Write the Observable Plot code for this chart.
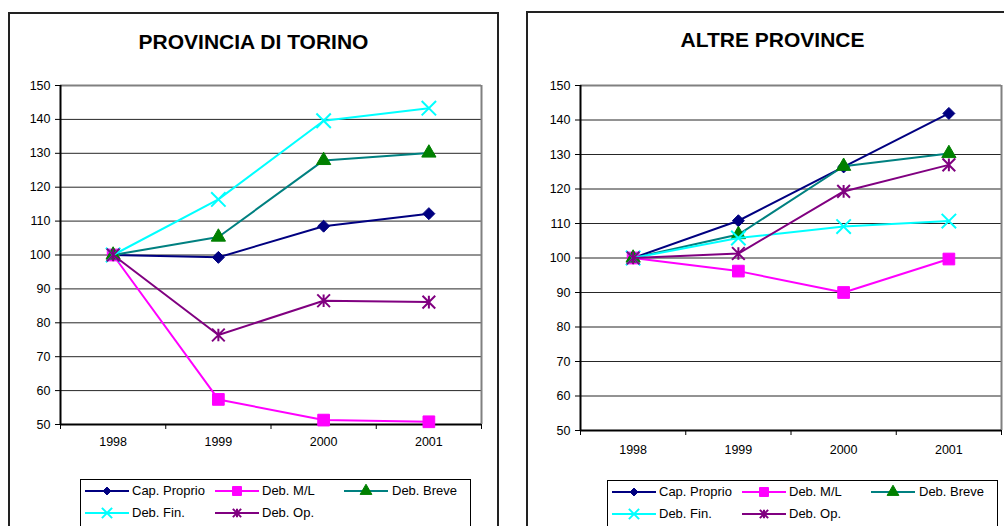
<!DOCTYPE html>
<html>
<head>
<meta charset="utf-8">
<script src="https://cdn.jsdelivr.net/npm/d3@7"></script>
<script src="https://cdn.jsdelivr.net/npm/@observablehq/plot@0.6"></script>
<style>
  html, body { margin: 0; padding: 0; background: #fff; }
  #root { position: relative; width: 1004px; height: 526px; overflow: hidden; font-family: "Liberation Sans", Arial, sans-serif; }
  .panel { position: absolute; box-sizing: border-box; border: 2px solid #222; background: #fff; }
  .title { position: absolute; font-weight: bold; font-size: 21px; text-align: center; line-height: 24px; white-space: nowrap; }
  .chart { position: absolute; top: 0; }
  .legend { position: absolute; box-sizing: border-box; border: 1px solid #000; background: #fff; width: 391px; height: 80px; }
  .lg-sw { position: absolute; }
  .lg-tx { position: absolute; font-size: 13px; line-height: 16px; white-space: nowrap; color: #000; }
</style>
</head>
<body>
<div id="root"></div>
<script>
// ---- data ----
const years = [1998, 1999, 2000, 2001];
const yTicks = [50, 60, 70, 80, 90, 100, 110, 120, 130, 140, 150];
const seriesNames = ["Cap. Proprio", "Deb. M/L", "Deb. Breve", "Deb. Fin.", "Deb. Op."];
const titles = ["PROVINCIA DI TORINO", "ALTRE PROVINCE"];

// Provincia di Torino
const torCap   = [100, 99.3, 108.5, 112.2];
const torML    = [100, 57.4, 51.3, 50.8];
const torBreve = [100, 105.3, 127.9, 130.1];
const torFin   = [100, 116.4, 139.6, 143.3];
const torOp    = [100, 76.4, 86.5, 86.1];

// Altre province
const altCap   = [100, 110.8, 126.4, 141.9];
const altML    = [100, 96.2, 90.0, 99.7];
const altBreve = [100, 106.8, 126.6, 130.3];
const altFin   = [100, 105.8, 109.1, 110.7];
const altOp    = [100, 101.3, 119.3, 127.0];

// ---- styles ----
const lineColors   = ["#000080", "#FF00FF", "#008080", "#00FFFF", "#800080"];
const markerColors = ["#000080", "#FF00FF", "#008000", "#00FFFF", "#800080"];
const excelAsterisk = {
  draw(ctx, size) {
    const r = Math.sqrt(size) * 0.56;
    ctx.moveTo(0, -r); ctx.lineTo(0, r);
    ctx.moveTo(-r, -r); ctx.lineTo(r, r);
    ctx.moveTo(-r, r); ctx.lineTo(r, -r);
  }
};
const symbols = ["diamond2", "square", "triangle", "times", excelAsterisk];
const filled  = [true, true, true, false, false];
const radii   = [5.4, 6.6, 5.3, 6.6, 6.4];
const d3Symbols = { "diamond2": d3.symbolDiamond2, "square": d3.symbolSquare, "triangle": d3.symbolTriangle, "times": d3.symbolTimes };

const root = document.getElementById("root");

function makePanel(cfg) {
  const panel = document.createElement("div");
  panel.className = "panel";
  Object.assign(panel.style, { left: cfg.boxLeft + "px", top: cfg.boxTop + "px", width: cfg.boxWidth + "px", height: "560px" });
  root.appendChild(panel);

  const t = document.createElement("div");
  t.className = "title";
  t.textContent = cfg.title;
  Object.assign(t.style, { left: (cfg.titleX - 200) + "px", width: "400px", top: (cfg.titleY - 12) + "px" });
  root.appendChild(t);

  const bounds = years.map(y => y - 0.5).concat([years[years.length - 1] + 0.5]);
  const grid = yTicks.slice(1, -1);
  const marks = [
    Plot.ruleY(grid, { y: d => d, stroke: "#000", strokeWidth: 1, strokeOpacity: 0.85 }),
    Plot.ruleY([yTicks[yTicks.length - 1]], { stroke: "#808080", strokeWidth: 2 }),
    Plot.ruleX([bounds[bounds.length - 1]], { stroke: "#808080", strokeWidth: 2 }),
    Plot.ruleY([yTicks[0]], { stroke: "#000", strokeWidth: 2 }),
    Plot.ruleX([bounds[0]], { stroke: "#000", strokeWidth: 2 }),
    Plot.axisY({ ticks: yTicks, tickSize: 5, tickPadding: 5, tickFormat: d => String(d), stroke: "#000", label: null }),
    Plot.axisX({ ticks: bounds, tickSize: 5, tickFormat: () => "", stroke: "#000", label: null }),
    Plot.axisX({ ticks: years, tickSize: 0, tickPadding: cfg.xPad, tickFormat: d => String(d), label: null })
  ];
  cfg.series.forEach((vals, i) => {
    const rows = years.map((yr, j) => ({ year: yr, value: vals[j] }));
    marks.push(Plot.line(rows, { x: "year", y: "value", stroke: lineColors[i], strokeWidth: 2 }));
    marks.push(Plot.dot(rows, {
      x: "year", y: "value", symbol: () => symbols[i], r: radii[i],
      fill: filled[i] ? markerColors[i] : "none",
      stroke: markerColors[i], strokeWidth: filled[i] ? 1 : 2
    }));
  });

  const chart = Plot.plot({
    width: cfg.width, height: 526,
    marginLeft: cfg.mL, marginRight: cfg.mR, marginTop: cfg.mT, marginBottom: cfg.mB,
    x: { type: "linear", domain: [bounds[0], bounds[bounds.length - 1]], label: null },
    y: { domain: [yTicks[0], yTicks[yTicks.length - 1]], label: null },
    symbol: { type: "identity" },
    style: { fontFamily: '"Liberation Sans", Arial, sans-serif', fontSize: "12.5px", color: "#000", background: "transparent", overflow: "visible" },
    marks
  });
  chart.classList.add("chart");
  chart.style.left = cfg.left + "px";
  root.appendChild(chart);

  // legend
  const lg = document.createElement("div");
  lg.className = "legend";
  lg.style.left = cfg.lgLeft + "px";
  lg.style.top = cfg.lgTop + "px";
  root.appendChild(lg);
  const cols = [4, 134, 263];
  const textCols = [51, 181, 311];
  const rowsY = [11, 32.5];
  const legendSizes = [40, 80, 60, 70, 55];
  seriesNames.forEach((name, i) => {
    const c = i % 3, r = Math.floor(i / 3);
    const sw = d3.create("svg").attr("width", 44).attr("height", 16).attr("class", "lg-sw")
      .style("left", cols[c] + "px").style("top", (rowsY[r] - 8) + "px");
    sw.append("line").attr("x1", 0).attr("x2", 44).attr("y1", 8).attr("y2", 8)
      .attr("stroke", lineColors[i]).attr("stroke-width", 2);
    const d3sym = d3Symbols[symbols[i]] || symbols[i];
    sw.append("path").attr("transform", "translate(22,8)")
      .attr("d", d3.symbol(d3sym, legendSizes[i])())
      .attr("fill", filled[i] ? markerColors[i] : "none")
      .attr("stroke", markerColors[i]).attr("stroke-width", filled[i] ? 1 : 2);
    lg.appendChild(sw.node());
    const tx = document.createElement("div");
    tx.className = "lg-tx";
    tx.textContent = name;
    tx.style.left = textCols[c] + "px";
    tx.style.top = (rowsY[r] - 8) + "px";
    lg.appendChild(tx);
  });
}

makePanel({
  title: titles[0], boxLeft: 8, boxTop: 12, boxWidth: 491, titleX: 253.5, titleY: 41.5,
  left: 0, width: 500, mL: 60, mR: 19, mT: 85, mB: 102, xPad: 13,
  series: [torCap, torML, torBreve, torFin, torOp],
  lgLeft: 80, lgTop: 479
});
makePanel({
  title: titles[1], boxLeft: 526, boxTop: 11, boxWidth: 600, titleX: 772.5, titleY: 40,
  left: 500, width: 504, mL: 80, mR: 3, mT: 85, mB: 96, xPad: 15,
  series: [altCap, altML, altBreve, altFin, altOp],
  lgLeft: 607, lgTop: 480
});
</script>
</body>
</html>
